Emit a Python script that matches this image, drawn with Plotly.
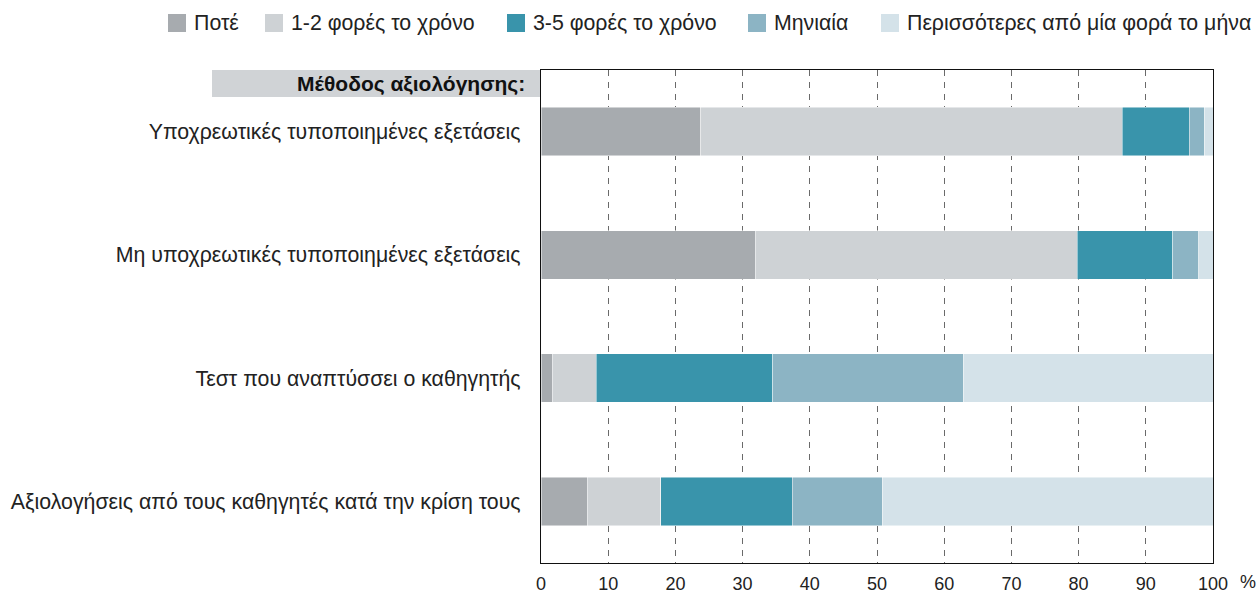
import plotly.graph_objects as go

categories = [
    "Υποχρεωτικές τυποποιημένες εξετάσεις",
    "Μη υποχρεωτικές τυποποιημένες εξετάσεις",
    "Τεστ που αναπτύσσει ο καθηγητής",
    "Αξιολογήσεις από τους καθηγητές κατά την κρίση τους",
]
series_names = ["Ποτέ", "1-2 φορές το χρόνο", "3-5 φορές το χρόνο", "Μηνιαία",
                "Περισσότερες από μία φορά το μήνα"]
never = [23.8, 31.9, 1.7, 6.9]
yearly_1_2 = [62.7, 47.9, 6.5, 10.9]
yearly_3_5 = [10.0, 14.2, 26.3, 19.6]
monthly = [2.2, 3.9, 28.3, 13.4]
more_monthly = [1.3, 2.1, 37.2, 49.2]
colors = ["#a7abaf", "#ced2d5", "#3994ab", "#8cb4c4", "#d4e2e9"]
x_tickvals = [0, 10, 20, 30, 40, 50, 60, 70, 80, 90, 100]
x_ticktext = ["0", "10", "20", "30", "40", "50", "60", "70", "80", "90", "100"]
header_text = "Μέθοδος αξιολόγησης:"

FONT = "Liberation Sans, Arial, sans-serif"
W, H = 1259, 593
L, R, T, B = 541, 46, 70, 30
PW, PH = W - L - R, H - T - B


def px(xp):
    return (xp - L) / PW


def py(yp):
    return (H - B - yp) / PH


fig = go.Figure()
for name, vals, col in zip(series_names, [never, yearly_1_2, yearly_3_5, monthly, more_monthly], colors):
    fig.add_trace(go.Bar(
        y=categories, x=vals, name=name, orientation="h",
        marker=dict(color=col, line=dict(color="rgba(255,255,255,0.6)", width=0.8)),
        width=0.395, showlegend=False, hoverinfo="skip",
    ))

fig.update_layout(
    barmode="stack",
    width=W, height=H,
    margin=dict(l=L, r=R, t=T, b=B, autoexpand=False),
    plot_bgcolor="white", paper_bgcolor="white",
    font=dict(family=FONT, size=21, color="#222222"),
    xaxis=dict(range=[0, 100], tickvals=x_tickvals, ticktext=x_ticktext,
               showgrid=True, gridcolor="#6a6a6a", griddash="6px,6px", gridwidth=1,
               showline=True, linecolor="#111111", linewidth=1.2, mirror=True,
               ticks="outside", ticklen=4, tickcolor="rgba(0,0,0,0)",
               zeroline=False, tickfont=dict(size=18)),
    yaxis=dict(range=[3.5, -0.5], showline=True, linecolor="#111111", linewidth=1.2,
               mirror=True, ticks="outside", ticklen=15, tickcolor="rgba(0,0,0,0)",
               tickfont=dict(size=21.3), showgrid=False),
)

# header band
fig.add_shape(type="rect", xref="paper", yref="paper", x0=px(212), x1=0, y0=py(97), y1=1.0,
              fillcolor="#d0d3d6", line=dict(width=0), layer="below")
fig.add_annotation(xref="paper", yref="paper", x=0, y=py(83.5), xanchor="right", yanchor="middle",
                   xshift=-14, text="<b>" + header_text + "</b>", showarrow=False,
                   font=dict(size=21, color="#111111"))
fig.add_annotation(xref="x", yref="paper", x=100, y=0, yanchor="top", xanchor="left",
                   xshift=25, yshift=-7, text="%", showarrow=False,
                   font=dict(size=18, color="#222222"))

# legend drawn manually
legend_x = [168, 265, 507, 748, 881]
sw = 18
ly = 23
for name, col, lx in zip(series_names, colors, legend_x):
    fig.add_shape(type="rect", xref="paper", yref="paper", x0=px(lx), x1=px(lx + sw),
                  y0=py(ly + sw / 2), y1=py(ly - sw / 2), fillcolor=col, line=dict(width=0))
    fig.add_annotation(xref="paper", yref="paper", x=px(lx + sw + 6), y=py(ly), xanchor="left",
                       yanchor="middle", text=name, showarrow=False,
                       font=dict(size=21.3, color="#222222"))

fig.write_html("out.html", config={"displayModeBar": False},
               post_script="document.body.style.margin='0';")
